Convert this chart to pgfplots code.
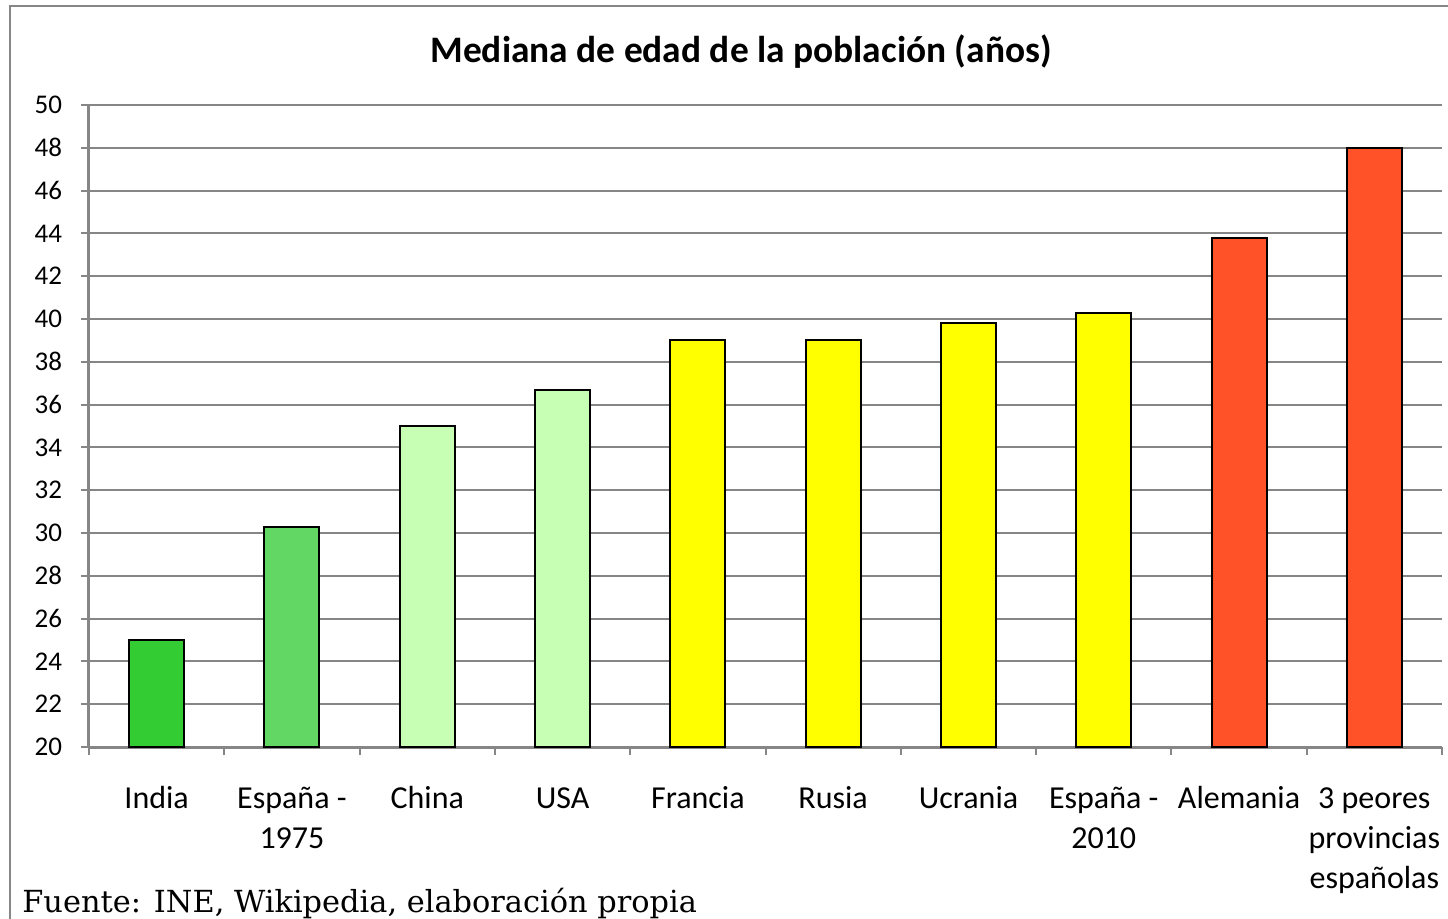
\documentclass[border=0pt]{standalone}
\usepackage{pgfplots}
\pgfplotsset{compat=1.18}
\usepackage{fontspec}
\setmainfont{Carlito}
\newfontfamily\footfont{DejaVu Serif}
\definecolor{c1}{HTML}{33CC33}
\definecolor{c2}{HTML}{63D763}
\definecolor{c3}{HTML}{C7FFB5}
\definecolor{c4}{HTML}{FFFF00}
\definecolor{c5}{HTML}{FF5229}
\definecolor{ax}{HTML}{868686}
\begin{document}
\begin{tikzpicture}[x=1pt,y=1pt]
\path[use as bounding box] (0,0) rectangle (724,459);
\draw[ax, line width=1pt] (5,-5) -- (5,456) -- (730,456);
\node[font=\bfseries\fontsize{18.7}{20}\selectfont] at (370.5,433) {Mediana de edad de la población (años)};
\begin{axis}[
  at={(44.5pt,85.5pt)}, anchor=south west, scale only axis,
  width=676.5pt, height=321pt,
  xmin=-0.5, xmax=9.5, ymin=20, ymax=50,
  ytick={20,22,...,50},
  xtick={-0.5,0.5,...,9.5}, xticklabels={},
  extra x ticks={0,1,2,3,4,5,6,7,8,9},
  extra x tick labels={\strut India,\strut España -\\1975,\strut China,\strut USA,\strut Francia,\strut Rusia,\strut Ucrania,\strut España -\\2010,\strut Alemania,\strut 3 peores\\provincias\\españolas},
  extra x tick style={major tick length=0pt, tick label style={font=\fontsize{16}{20}\selectfont, align=center, yshift=-13pt}},
  axis x line*=bottom, axis y line*=left,
  axis line style={ax, line width=1.5pt},
  tick style={ax, line width=1pt},
  tick align=outside, major tick length=4pt,
  ymajorgrids, grid style={ax, line width=1pt},
  yticklabel style={font=\fontsize{13.5}{15}\selectfont, xshift=-6pt},
  /pgf/number format/assume math mode=true,
  ybar, bar width=27.5pt, bar shift=0pt,
  every axis plot/.append style={draw=black, line width=1pt},
]
\addplot[fill=c1] coordinates {(0,25)};
\addplot[fill=c2] coordinates {(1,30.3)};
\addplot[fill=c3] coordinates {(2,35) (3,36.7)};
\addplot[fill=c4] coordinates {(4,39) (5,39) (6,39.8) (7,40.3)};
\addplot[fill=c5] coordinates {(8,43.8) (9,48)};
\end{axis}
\node[anchor=base west, inner sep=0pt, font=\footfont\fontsize{15.2}{17}\selectfont] at (11,3) {Fuente: INE, Wikipedia, elaboración propia};
\end{tikzpicture}
\end{document}
